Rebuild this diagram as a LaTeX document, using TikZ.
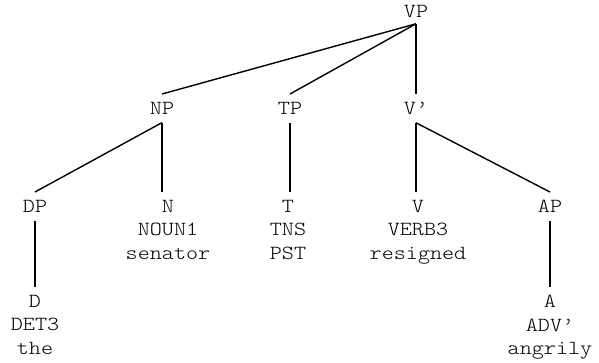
\documentclass[tikz,border=0pt]{standalone}
\usepackage{fontspec}
\usepackage{tikz}
\newfontfamily\treefont{lmmonolt10-regular.otf}[FakeStretch=1.15]
\tikzstyle{cat}=[anchor=north,%
                 align=center,%
                 inner xsep=0pt,%
                 inner ysep=8pt,%
                 font=\treefont\fontsize{20}{23.5}\selectfont]
\tikzstyle{branch}=[draw,line width=1.4pt]
\begin{document}
\begin{tikzpicture}[x=1pt,y=-1pt]
            \useasboundingbox (0,0) rectangle (599,362);
            \node[cat,inner ysep=6pt] (vp) at (416,-1) {VP};
            \node[cat] (np) at (162,94) {NP};
            \node[cat] (tp) at (290,94) {TP};
            \node[cat] (vbar) at (416,94) {V’};
            \node[cat] (dp) at (35,192) {DP};
            \node[cat] (n) at (168,192) {N\\NOUN1\\senator};
            \node[cat] (t) at (288,192) {T\\TNS\\PST};
            \node[cat] (v) at (418,192) {V\\VERB3\\resigned};
            \node[cat] (ap) at (550,192) {AP};
            \node[cat] (d) at (35,287) {D\\DET3\\the};
            \node[cat] (a) at (550,287) {A\\ADV’\\angrily};
            \draw [branch] (vp.south) -- (np.north);
            \draw [branch] (vp.south) -- (tp.north);
            \draw [branch] (vp.south) -- (vbar.north);
            \draw [branch] (np.south) -- (dp.north);
            \draw [branch] (np.south) -- (np.south |- n.north);
            \draw [branch] (tp.south) -- (tp.south |- t.north);
            \draw [branch] (vbar.south) -- (vbar.south |- v.north);
            \draw [branch] (vbar.south) -- (ap.north);
            \draw [branch] (dp.south) -- (d.north);
            \draw [branch] (ap.south) -- (a.north);
  \end{tikzpicture}
\end{document}
